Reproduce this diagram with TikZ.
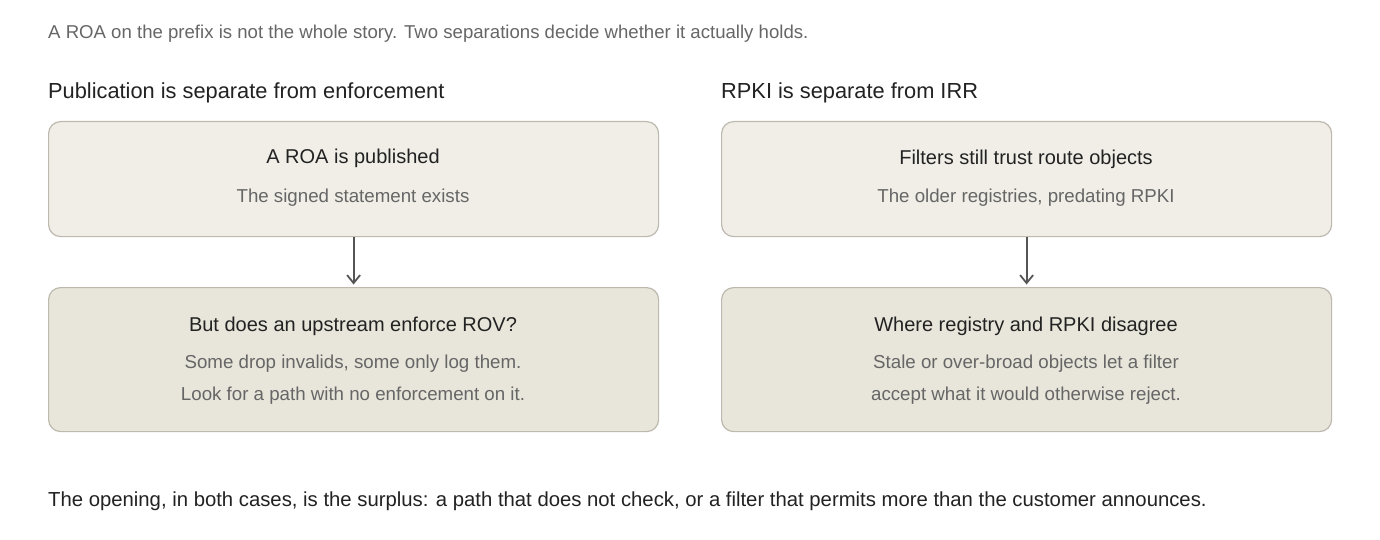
\documentclass[tikz,border=0pt]{standalone}
\usepackage{fontspec}
\setmainfont{Liberation Sans}
\usetikzlibrary{arrows.meta}
\definecolor{ink}{HTML}{222222}
\definecolor{muted}{HTML}{666666}
\definecolor{boxA}{HTML}{F1EEE7}
\definecolor{boxB}{HTML}{E8E5DA}
\definecolor{edgec}{HTML}{BDB9AF}
\definecolor{arrowc}{HTML}{555555}
\begin{document}
\begin{tikzpicture}[x=1pt,y=-1pt,
  panel/.style={draw=edgec, line width=1.2pt, rounded corners=12pt, anchor=north west,
    minimum width=610pt, inner sep=0pt},
  upper/.style={panel, fill=boxA, minimum height=115pt},
  lower/.style={panel, fill=boxB, minimum height=144pt},
  title/.style={inner sep=0pt, anchor=base, text=ink, font=\fontsize{20}{24}\selectfont},
  sub/.style={inner sep=0pt, anchor=base, text=muted, font=\fontsize{18.7}{22}\selectfont},
  head/.style={inner sep=0pt, anchor=base west, text=ink, font=\fontsize{21.8}{26}\selectfont},
  lead/.style={inner sep=0pt, anchor=base west, text=muted, font=\fontsize{18.6}{22}\selectfont},
  foot/.style={inner sep=0pt, anchor=base west, text=ink, font=\fontsize{20.3}{24}\selectfont},
  flow/.style={draw=arrowc, line width=1.8pt, -{Straight Barb[length=8pt,width=13pt]}, shorten >=2.5pt}
]
\useasboundingbox (0,0) rectangle (1380,540);
\fill[white] (0,0) rectangle (1380,540);

\node[lead] (intro) at (48,39) {A ROA on the prefix is not the whole story. Two separations decide whether it actually holds.};

\node[head] (hl) at (48,99) {Publication is separate from enforcement};
\node[head] (hr) at (721,99) {RPKI is separate from IRR};

% left column
\node[upper] (b1) at (48,121) {};
\node[lower] (b2) at (48,287) {};
\node[title] (b1t) at (353,164) {A ROA is published};
\node[sub] (b1s) at (353,202) {The signed statement exists};
\node[title] (b2t) at (353,331) {But does an upstream enforce ROV?};
\node[sub] (b2s1) at (353,368) {Some drop invalids, some only log them.};
\node[sub] (b2s2) at (353,400) {Look for a path with no enforcement on it.};

% right column
\node[upper] (b3) at (721,121) {};
\node[lower] (b4) at (721,287) {};
\node[title] (b3t) at (1026,165) {Filters still trust route objects};
\node[sub] (b3s) at (1026,202) {The older registries, predating RPKI};
\node[title] (b4t) at (1026,331) {Where registry and RPKI disagree};
\node[sub] (b4s1) at (1026,368) {Stale or over-broad objects let a filter};
\node[sub] (b4s2) at (1026,400) {accept what it would otherwise reject.};

\draw[flow] (b1.south) -- (b2.north);
\draw[flow] (b3.south) -- (b4.north);

\node[foot] (outro) at (48,506) {The opening, in both cases, is the surplus: a path that does not check, or a filter that permits more than the customer announces.};
\end{tikzpicture}
\end{document}
